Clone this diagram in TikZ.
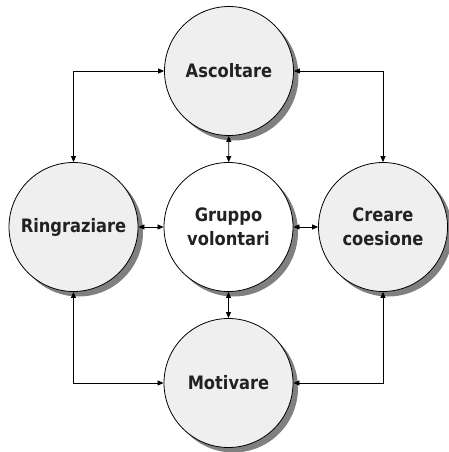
\documentclass[tikz,border=0pt]{standalone}
\usepackage{fontspec}
\setmainfont{DejaVu Sans}[FakeStretch=0.88]
\usetikzlibrary{shadows,arrows.meta}
\definecolor{discfill}{HTML}{EFEFEF}
\definecolor{inktext}{HTML}{222222}
\definecolor{shadowgray}{HTML}{808080}
\tikzset{
  disc/.style={circle, draw=black, line width=0.8pt, minimum size=129pt, inner sep=0pt,
    fill=discfill, text=inktext, align=center,
    font=\fontsize{18.5}{24}\selectfont\bfseries,
    drop shadow={shadow xshift=5pt, shadow yshift=-5pt, fill=shadowgray, opacity=1}},
  hub/.style={disc, fill=white},
  link/.style={line width=0.7pt, {Triangle[length=6pt,width=5pt]}-{Triangle[length=6pt,width=5pt]}}
}
\begin{document}
\begin{tikzpicture}[x=1pt,y=-1pt]
  \useasboundingbox (0,0) rectangle (448,452);
  \node[disc] (asc) at (229,71) {Ascoltare};
  \node[disc] (rin) at (73.5,227) {Ringraziare};
  \node[hub]  (gru) at (228.5,227) {Gruppo\\volontari};
  \node[disc] (cre) at (383,227) {Creare\\coesione};
  \node[disc] (mot) at (228.5,383) {Motivare};
  % outer ring
  \draw[link] (asc.west) -| (rin.north);
  \draw[link] (asc.east) -| (cre.north);
  \draw[link] (mot.west) -| (rin.south);
  \draw[link] (mot.east) -| (cre.south);
  % spokes to the hub
  \draw[link] (asc) -- (gru);
  \draw[link] (rin) -- (gru);
  \draw[link] (cre) -- (gru);
  \draw[link] (mot) -- (gru);
\end{tikzpicture}
\end{document}
